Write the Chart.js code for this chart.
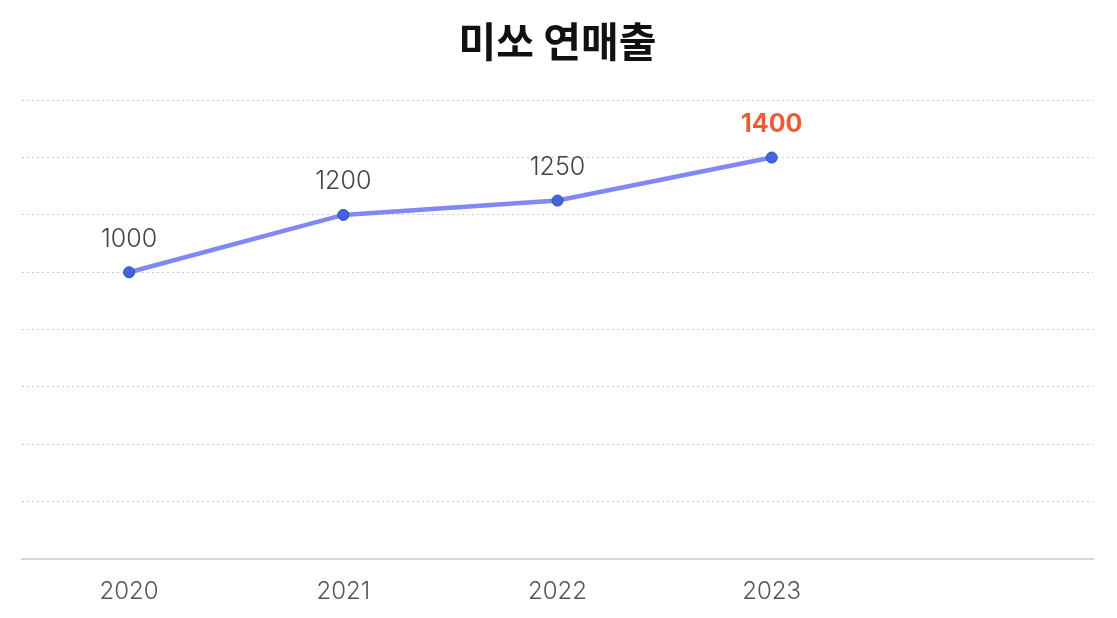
<!DOCTYPE html>
<html lang="ko">
<head>
<meta charset="utf-8">
<title>미쏘 연매출</title>
<script src="https://cdn.jsdelivr.net/npm/chart.js@4.4.1/dist/chart.umd.min.js"></script>
<style>
    html, body { margin: 0; padding: 0; background: #fff; }
    #wrap { width: 1117px; height: 618px; position: relative; }
</style>
</head>
<body>
<div id="wrap"><canvas id="sales-chart"></canvas></div>
<script>
const years = ['2020', '2021', '2022', '2023', ''];
const sales = [1000, 1200, 1250, 1400, null];
const highlightIndex = 3;
const yMin = 0;
const yMax = 1600;
const yStep = 200;

// draws the value above each point
const valueLabels = {
    id: 'valueLabels',
    afterDatasetsDraw(chart) {
        const ctx = chart.ctx;
        const meta = chart.getDatasetMeta(0);
        ctx.save();
        ctx.textAlign = 'center';
        ctx.textBaseline = 'middle';
        meta.data.forEach((point, i) => {
            if (sales[i] === null) return;
            if (i === highlightIndex) {
                ctx.font = '700 25px Inter, "Noto Sans", sans-serif';
                ctx.fillStyle = '#f05a38';
            } else {
                ctx.font = '300 25px Inter, "Noto Sans", sans-serif';
                ctx.fillStyle = '#444';
            }
            ctx.fillText(String(sales[i]), point.x, point.y - 33);
        });
        ctx.restore();
    }
};

document.addEventListener('DOMContentLoaded', () => {
    const ctx = document.getElementById('sales-chart').getContext('2d');
    new Chart(ctx, {
        type: 'line',
        data: {
            labels: years,
            datasets: [{
                label: '연매출',
                data: sales,
                borderColor: '#7f88f5',
                borderWidth: 4.5,
                pointRadius: 5.5,
                pointBackgroundColor: '#4562e6',
                pointBorderColor: '#23558a',
                pointBorderWidth: 1,
                tension: 0,
                fill: false
            }]
        },
        options: {
            responsive: true,
            maintainAspectRatio: false,
            animation: false,
            layout: {
                padding: { left: 22, right: 24, top: 0, bottom: 14 }
            },
            plugins: {
                legend: { display: false },
                tooltip: { enabled: false },
                title: {
                    display: true,
                    text: '미쏘 연매출',
                    color: '#111',
                    font: { family: '"Noto Sans CJK KR", sans-serif', size: 41, weight: '700' },
                    padding: { top: 17, bottom: 34 }
                }
            },
            scales: {
                x: {
                    offset: true,
                    grid: { display: false, drawTicks: false },
                    border: { display: true, color: '#d6d6d6', width: 2 },
                    ticks: {
                        color: '#555',
                        padding: 18,
                        maxRotation: 0,
                        font: { family: 'Inter, "Noto Sans", sans-serif', size: 24, weight: '300' }
                    },
                    afterFit(scale) {
                        scale.height = 45;
                    }
                },
                y: {
                    min: yMin,
                    max: yMax,
                    ticks: { display: false, stepSize: yStep },
                    border: { display: false, dash: [2, 3] },
                    grid: { color: '#cccccc', lineWidth: 1, drawTicks: false }
                }
            }
        },
        plugins: [valueLabels]
    });
});
</script>
</body>
</html>
